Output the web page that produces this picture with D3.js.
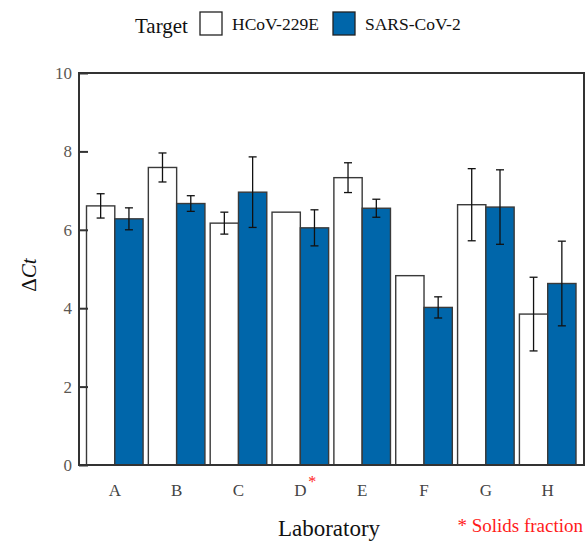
<!DOCTYPE html>
<html>
<head>
<meta charset="utf-8">
<script src="https://cdn.jsdelivr.net/npm/d3@7"></script>
<style>
  body { margin: 0; background: #fff; }
  svg text { font-family: "Liberation Serif", "DejaVu Serif", serif; }
</style>
</head>
<body>
<script>
// labs and the two targets
var labs = ["A", "B", "C", "D", "E", "F", "G", "H"];
var targets = ["HCoV-229E", "SARS-CoV-2"];
// mean delta Ct per lab
var hcovMean = [6.61, 7.59, 6.17, 6.45, 7.33, 4.83, 6.64, 3.85];
var sarsMean = [6.28, 6.67, 6.96, 6.05, 6.55, 4.02, 6.58, 4.63];
// error bar half-widths (null = none drawn)
var hcovErr = [0.31, 0.37, 0.28, null, 0.38, null, 0.92, 0.94];
var sarsErr = [0.28, 0.20, 0.90, 0.46, 0.23, 0.27, 0.95, 1.08];
var yTicks = [0, 2, 4, 6, 8, 10];
var solidsLab = "D";

var W = 587, H = 541;
var pLeft = 79, pRight = 584, pTop = 73, pBottom = 465;
var serif = "'Liberation Serif', 'DejaVu Serif', serif";

var svg = d3.select("body").append("svg")
  .attr("width", W).attr("height", H);

var x = d3.scaleBand().domain(labs).range([86.5, 576]).paddingInner(0.085);
var xs = d3.scaleBand().domain(targets).range([0, x.bandwidth()]);
var y = d3.scaleLinear().domain([0, 10]).range([pBottom, pTop]);

var fills = {"HCoV-229E": "#ffffff", "SARS-CoV-2": "#0066aa"};

// rows for drawing
var rows = [];
labs.forEach(function(l, i) {
  rows.push({lab: l, t: targets[0], v: hcovMean[i], e: hcovErr[i]});
  rows.push({lab: l, t: targets[1], v: sarsMean[i], e: sarsErr[i]});
});

// bars
svg.append("g").selectAll("rect").data(rows).enter().append("rect")
  .attr("x", function(d) { return x(d.lab) + xs(d.t); })
  .attr("width", xs.bandwidth())
  .attr("y", function(d) { return y(d.v); })
  .attr("height", function(d) { return y(0) - y(d.v); })
  .style("fill", function(d) { return fills[d.t]; })
  .style("stroke", "#3a3a3a")
  .style("stroke-width", 1.4);

// error bars
var eb = svg.append("g").selectAll("g")
  .data(rows.filter(function(d) { return d.e != null; }))
  .enter().append("g")
  .attr("transform", function(d) {
    return "translate(" + (x(d.lab) + xs(d.t) + xs.bandwidth() / 2) + ",0)";
  })
  .style("stroke", "#111").style("stroke-width", 1.3);
eb.append("line").attr("x1", 0).attr("x2", 0)
  .attr("y1", function(d) { return y(d.v + d.e); })
  .attr("y2", function(d) { return y(d.v - d.e); });
eb.append("line").attr("x1", -4).attr("x2", 4)
  .attr("y1", function(d) { return y(d.v + d.e); })
  .attr("y2", function(d) { return y(d.v + d.e); });
eb.append("line").attr("x1", -4).attr("x2", 4)
  .attr("y1", function(d) { return y(d.v - d.e); })
  .attr("y2", function(d) { return y(d.v - d.e); });

// frame
svg.append("rect")
  .attr("x", pLeft).attr("y", pTop)
  .attr("width", pRight - pLeft).attr("height", pBottom - pTop)
  .style("fill", "none").style("stroke", "#333").style("stroke-width", 2);

// y axis with inward ticks
var yAxis = svg.append("g")
  .attr("transform", "translate(" + pLeft + ",0)")
  .call(d3.axisRight(y).tickValues(yTicks).tickSize(9).tickFormat(""));
yAxis.select(".domain").remove();
yAxis.selectAll("line").style("stroke", "#333").style("stroke-width", 2);

svg.append("g").selectAll("text").data(yTicks).enter().append("text")
  .attr("x", pLeft - 7)
  .attr("y", function(d) { return y(d); })
  .attr("dy", "0.35em")
  .attr("text-anchor", "end")
  .style("font-family", serif)
  .style("font-size", "17px")
  .style("fill", "#5b5753")
  .text(function(d) { return d; });

// x labels
var xAxis = svg.append("g")
  .attr("transform", "translate(0," + pBottom + ")")
  .call(d3.axisBottom(x).tickSize(0).tickPadding(19));
xAxis.select(".domain").remove();
xAxis.selectAll("text")
  .style("font-family", serif)
  .style("font-size", "17px")
  .style("fill", "#444");

svg.append("text")
  .attr("x", x(solidsLab) + x.bandwidth() / 2 + 8)
  .attr("y", 487)
  .style("font-family", serif)
  .style("fill", "#ff2020")
  .style("font-size", "16px")
  .text("*");

// axis titles
svg.append("text")
  .attr("x", 329).attr("y", 536)
  .attr("text-anchor", "middle")
  .style("font-family", serif)
  .style("font-size", "23px")
  .style("fill", "#111")
  .text("Laboratory");

var yt = svg.append("text")
  .attr("transform", "translate(36,275) rotate(-90)")
  .attr("text-anchor", "middle")
  .style("font-family", serif)
  .style("font-size", "21px")
  .style("fill", "#111");
yt.append("tspan").text("\u0394");
yt.append("tspan").style("font-style", "italic").text("Ct");

svg.append("text")
  .attr("x", 583).attr("y", 532)
  .attr("text-anchor", "end")
  .style("font-family", serif)
  .style("font-size", "19px")
  .style("fill", "#ff1a1a")
  .text("* Solids fraction");

// legend
var lg = svg.append("g");
lg.append("text").attr("x", 135).attr("y", 33)
  .style("font-family", serif)
  .style("font-size", "21px").style("fill", "#111").text("Target");
var lx = [200, 333];
targets.forEach(function(t, i) {
  lg.append("rect")
    .attr("x", lx[i]).attr("y", 12).attr("width", 22).attr("height", 23)
    .style("fill", fills[t]).style("stroke", "#222").style("stroke-width", 1.3);
  lg.append("text").attr("x", lx[i] + 32).attr("y", 30)
    .style("font-family", serif)
    .style("font-size", "17.5px").style("fill", "#111").text(t);
});
</script>
</body>
</html>
